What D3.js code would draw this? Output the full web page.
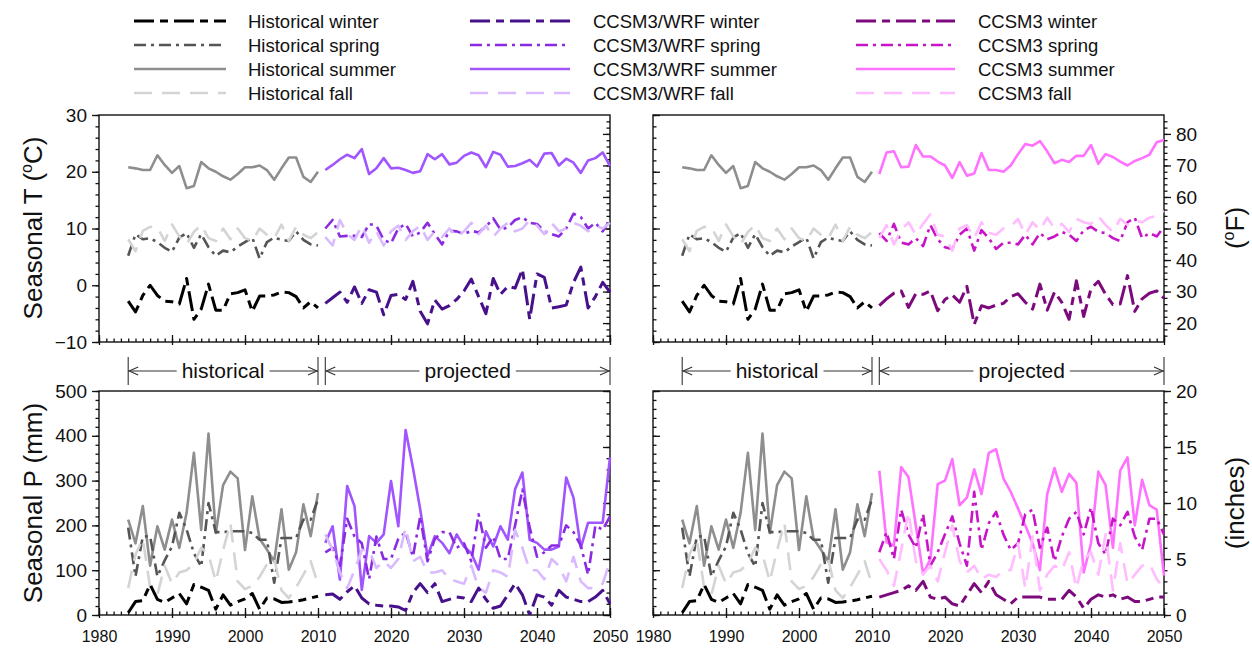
<!DOCTYPE html>
<html><head><meta charset="utf-8">
<script src="https://cdn.jsdelivr.net/npm/d3@7"></script>
<style>
body{margin:0;background:#fff;}
svg text{font-family:"Liberation Sans", Arial, sans-serif;fill:#111;}
</style></head>
<body><svg id="c" width="1252" height="652"></svg>
<script>
// ---------- data ----------
const histYears = d3.range(1984, 2011);   // 1984..2010
const projYears = d3.range(2011, 2051);   // 2011..2050
const xTickLabels = [1980,1990,2000,2010,2020,2030,2040,2050];
const tTickLabels = [-10,0,10,20,30];
const fTickLabels = [20,30,40,50,60,70,80];
const pTickLabels = [0,100,200,300,400,500];
const inTickLabels = [0,5,10,15,20];

// Temperature (°C)
const histWinterT = [-2.8,-4.7,-1.8,0.0,-1.8,-2.8,-2.9,-3.3,1.2,-6.0,-4.2,0.2,-4.4,-4.4,-1.5,-1.3,-0.8,-4.6,-1.9,-1.9,-1.7,-1.2,-1.3,-2.0,-4.0,-2.9,-4.0];
const histSpringT = [5.2,9.0,8.1,8.3,7.6,6.6,5.9,8.4,9.2,6.6,9.0,6.7,5.2,6.1,5.8,6.8,7.6,8.4,4.7,7.6,8.4,8.0,7.8,9.5,8.0,7.2,7.0];
const histSummerT = [20.8,20.6,20.3,20.3,22.9,21.2,19.8,21.0,17.1,17.5,21.7,20.6,20.0,19.2,18.6,19.6,20.8,20.8,21.1,20.3,18.6,20.6,22.5,22.5,19.1,18.2,20.0];
const histFallT   = [8.1,6.0,9.6,10.3,10.2,7.8,10.7,8.6,7.2,9.4,10.6,8.3,7.8,10.0,8.1,10.0,8.3,7.8,10.0,8.9,8.3,10.7,7.8,10.3,8.9,8.3,9.4];

const wrfWinterT  = [-3.2,-2.2,-1.2,-3.0,-0.3,-3.2,-0.8,-1.2,-5.2,-1.8,-1.6,-2.5,0.7,-4.6,-6.8,-2.6,-4.2,-3.6,-2.5,-1.0,1.1,-2.0,-5.0,1.2,-1.6,-0.2,-0.5,2.8,-6.0,2.0,1.4,-4.0,-3.8,-3.5,0.5,3.2,-4.0,-2.0,0.5,-1.2];
const wrfSpringT  = [10.0,11.5,8.6,8.7,8.7,8.5,10.8,10.5,8.0,7.4,10.0,10.8,8.6,9.3,11.0,9.0,7.2,9.6,9.5,9.0,9.6,9.3,10.3,11.8,9.8,10.2,11.5,12.0,11.0,10.8,9.5,9.0,8.6,10.0,12.6,12.0,10.0,11.0,9.5,11.5];
const wrfSummerT  = [20.3,21.2,22.2,23.0,22.4,24.0,19.6,20.6,22.4,20.6,20.7,20.3,19.8,20.1,23.1,22.2,23.1,21.3,21.6,22.8,23.4,22.9,20.8,23.5,23.0,20.9,21.0,21.5,22.1,20.9,23.2,23.3,21.1,22.3,21.6,19.8,22.0,22.4,23.4,21.0];
const wrfFallT    = [8.5,7.0,11.5,9.0,8.0,10.5,7.5,9.5,7.0,9.5,10.5,8.0,9.5,10.5,8.0,9.5,8.5,10.0,8.5,9.5,11.0,9.0,10.5,8.5,10.0,11.0,9.5,10.0,11.5,10.5,9.0,11.0,9.5,10.0,11.0,10.5,9.5,10.5,10.0,11.0];

const ccsmWinterT = [-3.6,-2.4,-1.4,-1.0,-3.9,-1.5,-1.6,-1.0,-4.5,-2.5,-1.7,-3.0,-0.2,-6.9,-3.6,-4.0,-3.5,-3.2,-2.0,-1.5,-3.0,-4.2,0.2,-4.4,-1.2,-3.0,-6.0,0.8,-5.5,-0.6,0.7,-1.6,-3.4,-3.3,1.7,-4.6,-2.4,-1.4,-1.0,-2.3];
const ccsmSpringT = [9.2,7.8,10.8,7.5,7.2,8.3,6.9,10.6,8.1,6.7,6.4,8.9,10.0,6.1,9.7,8.3,6.4,7.5,7.5,7.2,8.9,7.2,9.2,8.1,8.6,9.4,8.9,7.8,9.7,10.3,9.4,9.2,8.3,7.8,11.1,11.9,8.3,9.2,8.6,10.3];
const ccsmSummerT = [19.6,23.4,23.6,20.8,20.9,24.7,22.7,22.7,21.8,21.1,18.9,21.7,19.3,19.7,23.3,20.3,20.3,20.0,21.1,23.1,24.9,24.6,25.4,23.6,21.5,22.1,21.7,22.8,22.8,24.7,21.4,23.1,22.6,21.8,21.1,21.9,22.4,23.0,25.2,25.6];
const ccsmFallT   = [8.3,10.6,7.2,9.7,11.1,8.9,10.8,12.5,8.9,8.6,6.1,10.0,10.6,8.3,11.1,9.2,8.9,10.0,10.3,11.7,8.9,11.1,9.7,11.9,10.0,10.8,9.4,11.7,11.1,10.8,12.2,10.6,9.4,11.7,10.6,11.4,11.1,11.9,12.2,13.1];

// Precipitation (mm)
const histWinterP = [5,30,32,68,35,28,38,48,25,68,62,55,13,45,22,30,36,48,13,38,36,28,29,31,34,38,42];
const histSpringP = [195,86,175,176,86,122,153,228,191,138,108,250,185,185,187,187,187,183,168,168,72,172,172,172,213,213,258];
const histSummerP = [213,160,243,110,198,146,213,150,228,362,190,405,183,290,320,305,145,265,170,146,120,236,101,140,247,176,272];
const histFallP   = [60,135,170,62,45,110,70,95,100,115,150,135,75,145,205,75,58,65,85,113,125,55,38,62,90,120,68];

const wrfWinterP  = [45,47,35,52,65,38,25,22,20,20,18,10,50,70,50,70,30,35,40,38,30,60,35,15,20,45,70,45,0,45,40,22,55,40,35,30,30,40,55,25];
const wrfSpringP  = [140,150,110,215,175,160,80,175,125,125,170,185,130,220,120,170,185,185,150,160,120,225,150,175,125,125,200,280,195,130,140,155,155,200,185,155,90,200,190,220];
const wrfSummerP  = [161,198,79,288,243,56,176,161,180,299,198,413,329,236,131,176,161,138,180,153,138,101,187,153,198,168,281,318,168,161,146,146,153,307,262,150,206,206,206,352];
const wrfFallP    = [180,145,95,60,100,145,145,105,120,105,125,195,120,130,95,95,100,80,75,70,110,60,50,100,95,85,190,150,100,100,80,125,110,75,130,75,60,60,70,120];

const ccsmWinterP = [40,45,50,55,65,55,75,40,35,40,25,20,45,70,50,75,45,35,25,40,40,40,40,35,35,35,55,40,15,35,45,40,45,35,40,30,30,35,40,40];
const ccsmSpringP = [140,185,125,235,180,150,225,110,140,180,220,160,110,275,145,205,230,180,145,160,225,235,150,195,120,175,215,230,180,240,160,135,215,200,230,175,145,215,215,180];
const ccsmSummerP = [322,162,155,330,308,200,92,125,292,300,348,245,262,325,270,362,370,305,275,238,200,160,100,270,328,275,315,295,95,160,320,290,150,322,352,200,302,245,235,88];
const ccsmFallP   = [125,100,65,145,230,120,90,110,75,140,200,120,95,110,80,90,85,100,100,160,60,175,55,90,110,100,140,60,125,140,90,180,55,160,70,90,110,115,80,60];

const legendRows = ["winter","spring","summer","fall"];
const legendGroups = ["Historical","CCSM3/WRF","CCSM3"];

// ---------- styles ----------
const colors = {
  Historical: {winter:"#000000", spring:"#555555", summer:"#8e8e8e", fall:"#d4d4d4"},
  "CCSM3/WRF": {winter:"#47118c", spring:"#8a2be2", summer:"#a055ff", fall:"#d9baff"},
  CCSM3: {winter:"#7d0a7d", spring:"#c614c6", summer:"#ff72ff", fall:"#ffbcff"}
};
const dash = {winter:"20,6,8,6", spring:"12,5,3,5", summer:null, fall:"18,10"};
const widths = {winter:3, spring:2.6, summer:2.6, fall:2.6};

const svg = d3.select("#c");

const L = {x0:99, x1:610}, R = {x0:653, x1:1164};
const TOP = {y0:115, y1:342}, BOT = {y0:391, y1:615};

function drawPanel(px, py, kind, group, opts){
  const x = d3.scaleLinear().domain([1980,2050]).range([px.x0, px.x1]);
  let y, y2, major, minor, major2, minor2;
  if(kind==="T"){
    y = d3.scaleLinear().domain([-10,30]).range([py.y1, py.y0]);
    y2 = d3.scaleLinear().domain([14,86]).range([py.y1, py.y0]);
    major = tTickLabels; minor = d3.range(-10,31,2);
    major2 = fTickLabels; minor2 = d3.range(16,86,2);
  } else {
    y = d3.scaleLinear().domain([0,500]).range([py.y1, py.y0]);
    y2 = d3.scaleLinear().domain([0,20]).range([py.y1, py.y0]);
    major = pTickLabels; minor = d3.range(0,501,20);
    major2 = inTickLabels; minor2 = d3.range(0,21,1);
  }
  const g = svg.append("g");
  const style = sel => { sel.select(".domain").remove(); sel.selectAll("line").attr("stroke","#111").attr("stroke-width",1.3); sel.selectAll("text").style("font-size","19px").attr("fill","#111"); };

  if(opts.left){
    g.append("g").attr("transform",`translate(${px.x0},0)`).call(d3.axisLeft(y).tickValues(minor).tickSize(3.5).tickFormat("")).call(style);
    g.append("g").attr("transform",`translate(${px.x0},0)`).call(d3.axisLeft(y).tickValues(major).tickSize(7).tickPadding(5).tickFormat(d3.format("d"))).call(style);
    g.append("g").attr("transform",`translate(${px.x1},0)`).call(d3.axisLeft(y2).tickValues(minor2).tickSize(3.5).tickFormat("")).call(style);
    g.append("g").attr("transform",`translate(${px.x1},0)`).call(d3.axisLeft(y2).tickValues(major2).tickSize(7).tickFormat("")).call(style);
  } else {
    g.append("g").attr("transform",`translate(${px.x0},0)`).call(d3.axisRight(y).tickValues(minor).tickSize(3.5).tickFormat("")).call(style);
    g.append("g").attr("transform",`translate(${px.x0},0)`).call(d3.axisRight(y).tickValues(major).tickSize(7).tickFormat("")).call(style);
    g.append("g").attr("transform",`translate(${px.x1},0)`).call(d3.axisRight(y2).tickValues(minor2).tickSize(3.5).tickFormat("")).call(style);
    g.append("g").attr("transform",`translate(${px.x1},0)`).call(d3.axisRight(y2).tickValues(major2).tickSize(7).tickPadding(5).tickFormat(d3.format("d"))).call(style);
  }
  g.append("g").attr("transform",`translate(0,${py.y1})`).call(d3.axisTop(x).tickValues(d3.range(1980,2051,1)).tickSize(3.5).tickFormat("")).call(style);
  g.append("g").attr("transform",`translate(0,${py.y1})`).call(d3.axisTop(x).tickValues(xTickLabels).tickSize(7).tickFormat("")).call(style);
  const xb = g.append("g").attr("transform",`translate(0,${py.y1})`).call(d3.axisBottom(x).tickValues(xTickLabels).tickSize(3).tickPadding(13).tickFormat(opts.xlabels? d3.format("d") : ""));
  style(xb);
  xb.selectAll("text").style("font-size","16px");

  g.append("rect").attr("x",px.x0).attr("y",py.y0).attr("width",px.x1-px.x0).attr("height",py.y1-py.y0)
    .attr("fill","none").attr("stroke","#111").attr("stroke-width",1.4);

  const line = d3.line().x(d=>x(d[0])).y(d=>y(d[1]));
  const seasons = ["summer","spring","fall","winter"];
  const histData = kind==="T" ? {winter:histWinterT, spring:histSpringT, summer:histSummerT, fall:histFallT}
                              : {winter:histWinterP, spring:histSpringP, summer:histSummerP, fall:histFallP};
  const projData = group==="CCSM3/WRF"
      ? (kind==="T" ? {winter:wrfWinterT, spring:wrfSpringT, summer:wrfSummerT, fall:wrfFallT} : {winter:wrfWinterP, spring:wrfSpringP, summer:wrfSummerP, fall:wrfFallP})
      : (kind==="T" ? {winter:ccsmWinterT, spring:ccsmSpringT, summer:ccsmSummerT, fall:ccsmFallT} : {winter:ccsmWinterP, spring:ccsmSpringP, summer:ccsmSummerP, fall:ccsmFallP});
  const clip = "clip"+Math.round(px.x0)+Math.round(py.y0);
  svg.append("clipPath").attr("id",clip).append("rect").attr("x",px.x0).attr("y",py.y0).attr("width",px.x1-px.x0+2).attr("height",py.y1-py.y0);
  const sg = g.append("g").attr("clip-path",`url(#${clip})`);
  seasons.forEach(s=>{
    sg.append("path").datum(histYears.map((yr,i)=>[yr,histData[s][i]])).attr("d",line)
      .attr("fill","none").attr("stroke",colors.Historical[s]).attr("stroke-width",widths[s])
      .attr("stroke-dasharray",dash[s]).attr("stroke-linejoin","round");
    sg.append("path").datum(projYears.map((yr,i)=>[yr,projData[s][i]])).attr("d",line)
      .attr("fill","none").attr("stroke",colors[group][s]).attr("stroke-width",widths[s])
      .attr("stroke-dasharray",dash[s]).attr("stroke-linejoin","round");
  });
  return x;
}

const xL = drawPanel(L, TOP, "T", "CCSM3/WRF", {left:true, xlabels:false});
drawPanel(R, TOP, "T", "CCSM3", {left:false, xlabels:false});
drawPanel(L, BOT, "P", "CCSM3/WRF", {left:true, xlabels:true});
const xR = drawPanel(R, BOT, "P", "CCSM3", {left:false, xlabels:true});

// ---------- period annotations ----------
function period(x, a, b, label, yc){
  const g = svg.append("g").attr("stroke","#333").attr("stroke-width",1.1).attr("fill","none");
  const xa = x(a), xb = x(b), mid = (xa+xb)/2;
  [xa, xb].forEach(v=> g.append("line").attr("x1",v).attr("x2",v).attr("y1",yc-14).attr("y2",yc+14));
  const t = svg.append("text").attr("x",mid).attr("y",yc+7).attr("text-anchor","middle").style("font-size","21px").text(label);
  const w = t.node().getComputedTextLength()/2 + 5;
  g.append("line").attr("x1",xa).attr("x2",mid-w).attr("y1",yc).attr("y2",yc);
  g.append("line").attr("x1",mid+w).attr("x2",xb).attr("y1",yc).attr("y2",yc);
  g.append("path").attr("d",`M${xa+10},${yc-4}L${xa+1},${yc}L${xa+10},${yc+4}`);
  g.append("path").attr("d",`M${xb-10},${yc-4}L${xb-1},${yc}L${xb-10},${yc+4}`);
}
[xL, xR].forEach(x=>{
  period(x, 1984, 2010, "historical", 371);
  period(x, 2011, 2050, "projected", 371);
});

// ---------- axis titles ----------
function vtitle(x, y, parts){
  const t = svg.append("text").attr("transform",`translate(${x},${y}) rotate(-90)`).attr("text-anchor","middle").style("font-size","26px");
  parts.forEach(p=>{
    if(p.sup){ t.append("tspan").attr("dy",-10).style("font-size","16px").text(p.t); }
    else if(p.after){ t.append("tspan").attr("dy",10).text(p.t); }
    else t.append("tspan").text(p.t);
  });
}
vtitle(42, 228, [{t:"Seasonal T ("},{t:"o",sup:true},{t:"C)",after:true}]);
vtitle(42, 503, [{t:"Seasonal P (mm)"}]);
vtitle(1244, 228, [{t:"("},{t:"o",sup:true},{t:"F)",after:true}]);
vtitle(1244, 503, [{t:"(inches)"}]);

// ---------- legend ----------
const legX = [{l:134, r:226, t:248}, {l:470, r:570, t:593}, {l:856, r:955, t:978}];
const legY = [21, 45, 69, 93];
legendGroups.forEach((gName, gi)=>{
  legendRows.forEach((s, si)=>{
    const lx = legX[gi], ly = legY[si];
    svg.append("path").attr("d", d3.line()([[lx.l, ly],[lx.r, ly]]))
      .attr("stroke", colors[gName][s]).attr("stroke-width", widths[s]).attr("stroke-dasharray", dash[s]).attr("fill","none");
    svg.append("text").attr("x", lx.t).attr("y", ly+6.5).style("font-size","18.5px").text(`${gName} ${s}`);
  });
});
</script></body></html>
